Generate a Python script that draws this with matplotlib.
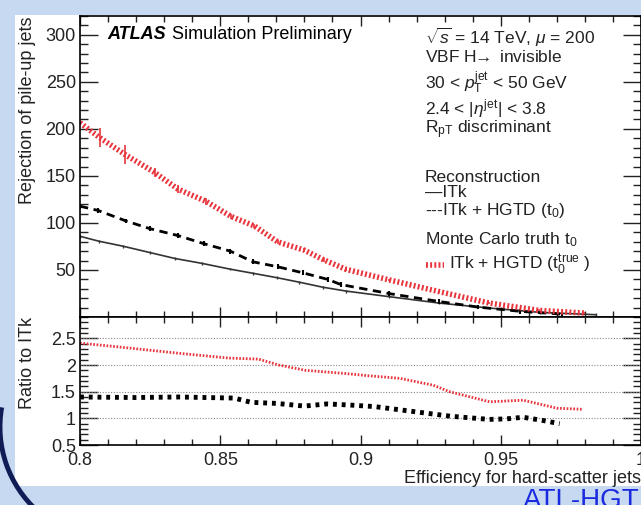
import matplotlib
matplotlib.use('Agg')
import matplotlib.pyplot as plt
from matplotlib.patches import Rectangle, Arc
from matplotlib.ticker import MultipleLocator

plt.rcParams['font.family'] = ['Liberation Sans', 'DejaVu Sans']
plt.rcParams['mathtext.fontset'] = 'custom'
plt.rcParams['mathtext.rm'] = 'Liberation Sans'
plt.rcParams['mathtext.it'] = 'Liberation Sans:italic'
plt.rcParams['mathtext.bf'] = 'Liberation Sans:bold'

# rejection vs efficiency (top panel)
itk_eff = [0.800, 0.8067, 0.8153, 0.8248, 0.8337, 0.8435, 0.8533, 0.8616, 0.8702, 0.8782, 0.8865, 0.895, 0.910, 0.928, 0.946, 0.964, 0.984]
itk_rej = [85.8, 80.6, 75.3, 68.6, 62.3, 57.0, 51.0, 46.5, 41.8, 37.0, 31.7, 27.5, 21.7, 14.8, 9.5, 4.9, 2.4]

hgtd_eff = [0.800, 0.8064, 0.8165, 0.8248, 0.8349, 0.8441, 0.8536, 0.8616, 0.8705, 0.8794, 0.8883, 0.893, 0.910, 0.928, 0.942, 0.957, 0.972]
hgtd_rej = [117.8, 113.3, 102.0, 94.0, 86.6, 78.0, 70.0, 58.7, 53.4, 47.0, 40.0, 34.5, 25.0, 16.5, 10.5, 6.0, 3.0]

truth_eff = [0.800, 0.8070, 0.8159, 0.8266, 0.8349, 0.8449, 0.8538, 0.8622, 0.8705, 0.8800, 0.8871, 0.8948, 0.9103, 0.928, 0.9459, 0.9637, 0.9797]
truth_rej = [206.5, 190.7, 173.0, 153.7, 136.0, 123.0, 107.0, 96.7, 79.8, 71.0, 60.5, 50.7, 39.4, 27.0, 14.8, 7.0, 4.2]
truth_err = [2, 10, 10, 5, 4, 4, 3, 2, 2, 2, 2, 2, 1, 1, 1, 1, 1]

# ratio to ITk (bottom panel)
rhgtd_eff = [0.800, 0.820, 0.835, 0.855, 0.861, 0.870, 0.880, 0.888, 0.896, 0.905, 0.914, 0.932, 0.946, 0.952, 0.958, 0.965, 0.971]
rhgtd_val = [1.40, 1.39, 1.40, 1.38, 1.30, 1.28, 1.23, 1.27, 1.25, 1.22, 1.16, 1.04, 0.98, 0.99, 1.02, 0.96, 0.90]

rtruth_eff = [0.800, 0.8117, 0.8352, 0.853, 0.8637, 0.8708, 0.8804, 0.8947, 0.9025, 0.914, 0.926, 0.9317, 0.946, 0.958, 0.970, 0.979]
rtruth_val = [2.41, 2.35, 2.22, 2.13, 2.11, 2.00, 1.90, 1.84, 1.80, 1.75, 1.62, 1.50, 1.31, 1.34, 1.19, 1.17]

red = '#e8343c'
fig = plt.figure(figsize=(6.41, 5.05), dpi=100)
fig.patch.set_facecolor('#c6d9f0')
fig.add_artist(Rectangle((15/641, 19/505), 1, 471/505, transform=fig.transFigure,
                         facecolor='white', edgecolor='none', zorder=0))
# slide decoration: navy arc bottom left
fig.add_artist(Arc((1.13, 0.78), 2.26, 2.26, theta1=170, theta2=228,
                   transform=fig.dpi_scale_trans, color='#0f1c55', lw=3.5))
fig.text(523/641, 17/505, 'ATL-HGTD', color='#1a2ae0', fontsize=20, ha='left', va='top')

ax1 = fig.add_axes([80/641, 188/505, 561/641, 301/505])
ax2 = fig.add_axes([80/641, 60/505, 561/641, 128/505])

ax1.plot(itk_eff, itk_rej, color='#333333', lw=1.2)
ax1.errorbar(itk_eff, itk_rej, yerr=1.5, fmt='none', ecolor='#333333', lw=1)
ax1.plot(hgtd_eff, hgtd_rej, color='black', lw=2, dashes=(3, 2))
ax1.errorbar(hgtd_eff, hgtd_rej, yerr=2.5, fmt='none', ecolor='black', lw=1.5)
ax1.plot(truth_eff, truth_rej, color=red, lw=4, dashes=(0.35, 0.4))
ax1.errorbar(truth_eff, truth_rej, yerr=truth_err, fmt='none', ecolor=red, lw=1.2)

for v in [1, 1.5, 2, 2.5]:
    ax2.axhline(v, color='#888888', lw=0.8, ls=(0, (1, 1.5)))
ax2.plot(rtruth_eff, rtruth_val, color=red, lw=2, dashes=(0.6, 0.6))
ax2.plot(rhgtd_eff, rhgtd_val, color='black', lw=3.5, dashes=(0.8, 1.0))

ax1.set_xlim(0.8, 1.0)
ax1.set_ylim(0, 320)
ax2.set_xlim(0.8, 1.0)
ax2.set_ylim(0.5, 2.9)

ax1.set_yticks([50, 100, 150, 200, 250, 300])
ax1.yaxis.set_minor_locator(MultipleLocator(10))
ax2.set_yticks([0.5, 1, 1.5, 2, 2.5], ['0.5', '1', '1.5', '2', '2.5'])
ax2.yaxis.set_minor_locator(MultipleLocator(0.1))
for ax in (ax1, ax2):
    ax.set_xticks([0.8, 0.85, 0.9, 0.95, 1.0], ['0.8', '0.85', '0.9', '0.95', '1'])
    ax.xaxis.set_minor_locator(MultipleLocator(0.01))
    ax.tick_params(which='both', direction='in', top=True, right=True, labelsize=13, colors='#222222')
    ax.tick_params(axis='y', which='major', length=13, width=1, pad=3)
    ax.tick_params(axis='y', which='minor', length=6, width=1)
    ax.tick_params(axis='x', which='major', length=7, width=1, pad=5)
    ax.tick_params(axis='x', which='minor', length=4, width=1)
    for s in ax.spines.values():
        s.set_linewidth(1.2)
ax1.tick_params(labelbottom=False)

ax1.set_ylabel('Rejection of pile-up jets', fontsize=13, loc='top', color='#222222')
ax1.yaxis.set_label_coords(-0.0927, 1.0)
ax1.yaxis.label.set_va('center')
ax2.set_ylabel('Ratio to ITk', fontsize=13, loc='top', color='#222222')
ax2.yaxis.set_label_coords(-0.0927, 1.0)
ax2.yaxis.label.set_va('center')
ax2.set_xlabel('Efficiency for hard-scatter jets', fontsize=13, loc='right', color='#222222')
ax2.xaxis.set_label_coords(1.0, -0.258)
ax2.xaxis.label.set_va('center')

# annotations
fs = 12.5
ax1.text(0.048, 0.937, 'ATLAS', fontsize=13, fontweight='bold', fontstyle='italic', va='center', transform=ax1.transAxes)
ax1.text(0.164, 0.937, 'Simulation Preliminary', fontsize=13, va='center', transform=ax1.transAxes)
info = ['$\\sqrt{s}$ = 14 TeV, $\\mu$ = 200',
        'VBF H$\\!\\!\\rightarrow$ invisible',
        '30 < $p_{\\mathrm{T}}^{\\mathrm{jet}}$ < 50 GeV',
        '2.4 < |$\\eta^{\\mathrm{jet}}$| < 3.8',
        'R$_{\\mathrm{pT}}$ discriminant',
        'Reconstruction',
        '\u2014ITk',
        '---ITk + HGTD (t$_{0}$)',
        'Monte Carlo truth t$_{0}$']
info_y = [0.930, 0.864, 0.777, 0.694, 0.621, 0.465, 0.412, 0.355, 0.256]
for t, y in zip(info, info_y):
    ax1.text(0.615, y, t, fontsize=fs, va='center', transform=ax1.transAxes, color='#222222')
ax1.plot([0.617, 0.648], [0.173, 0.173], transform=ax1.transAxes, color=red, lw=4, dashes=(0.35, 0.4))
ax1.text(0.657, 0.173, 'ITk + HGTD (t$_{0}^{\\mathrm{true}}$ )', fontsize=fs, va='center', transform=ax1.transAxes, color='#222222')

fig.savefig('out.png', dpi=100, facecolor=fig.get_facecolor())
